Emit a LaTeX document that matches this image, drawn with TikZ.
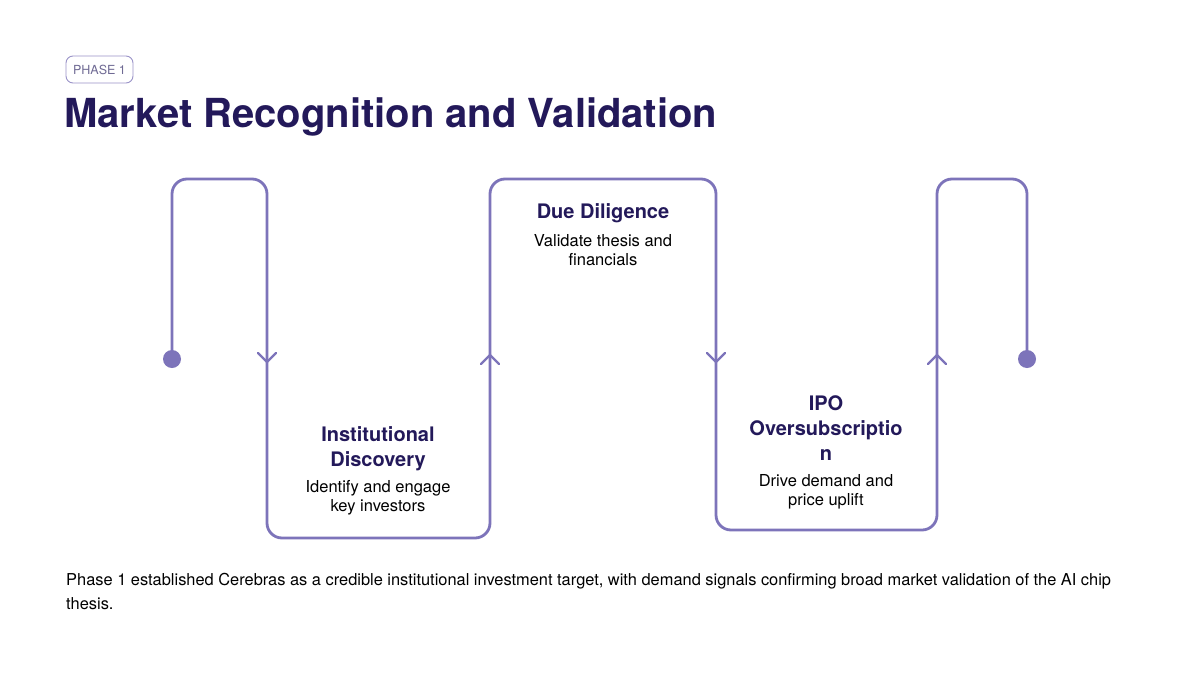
\documentclass[tikz,border=0pt]{standalone}
\usepackage{fontspec}
\setmainfont{TeX Gyre Heros}
\definecolor{flowc}{HTML}{7D74BA}
\definecolor{navy}{HTML}{23195A}
\definecolor{pillc}{HTML}{9A93C8}
\definecolor{pilltext}{HTML}{6F6A94}
\tikzset{
  flow/.style={draw=flowc, line width=2.8pt, rounded corners=15pt, line cap=round},
  chev/.style={draw=flowc, line width=2.2pt, line cap=round, line join=miter},
  dotnode/.style={circle, fill=flowc, inner sep=0pt, minimum size=18pt},
  head/.style={font=\bfseries\fontsize{20}{25}\selectfont, text=navy, align=center, inner sep=0pt},
  body/.style={font=\fontsize{16.5}{19}\selectfont, text=black, align=center, inner sep=0pt},
}
\begin{document}
\begin{tikzpicture}[x=1pt,y=-1pt]
\useasboundingbox (0,0) rectangle (1200,675);
\fill[white] (0,0) rectangle (1200,675);
% pill
\node[draw=pillc, line width=0.9pt, rounded corners=7pt, minimum width=67pt, minimum height=27pt, inner sep=0pt,
  text=pilltext, font=\fontsize{12.5}{12.5}\selectfont] (pill) at (99.5,69.5) {PHASE 1};
% title
\node[anchor=west, inner sep=0pt, text=navy, font=\bfseries\fontsize{40}{42}\selectfont] (title) at (64,117) {Market Recognition and Validation};
% path
\node[dotnode] (start) at (172,359) {};
\node[dotnode] (end) at (1027,359) {};
\coordinate (a1) at (172,179);
\coordinate (a2) at (267,179);
\coordinate (b1) at (267,538);
\coordinate (b2) at (490,538);
\coordinate (c1) at (490,179);
\coordinate (c2) at (716,179);
\coordinate (d1) at (716,530);
\coordinate (d2) at (937,530);
\coordinate (e1) at (937,179);
\coordinate (e2) at (1027,179);
\draw[flow] (start.center) -- (a1) -- (a2) -- (b1) -- (b2) -- (c1) -- (c2) -- (d1) -- (d2) -- (e1) -- (e2) -- (end.center);
% chevrons
\draw[chev] (258,353) -- (267,362) -- (276,353);
\draw[chev] (481,364) -- (490,355) -- (499,364);
\draw[chev] (707,353) -- (716,362) -- (725,353);
\draw[chev] (928,364) -- (937,355) -- (946,364);
% texts
\node[head] (h1) at (378,449) {Institutional\\Discovery};
\node[body] (t1) at (378,498) {Identify and engage\\key investors};
\node[head] (h2) at (603,213) {Due Diligence};
\node[body] (t2) at (603,250.5) {Validate thesis and\\financials};
\node[head] (h3) at (826,428) {IPO\\Oversubscriptio\\n};
\node[body] (t3) at (826,492) {Drive demand and\\price uplift};
\node[anchor=north west, inner sep=0pt, align=left, font=\fontsize{16.4}{24}\selectfont] (note) at (66,573)
 {Phase 1 established Cerebras as a credible institutional investment target, with demand signals confirming broad market validation of the AI chip\\thesis.};
\end{tikzpicture}
\end{document}
